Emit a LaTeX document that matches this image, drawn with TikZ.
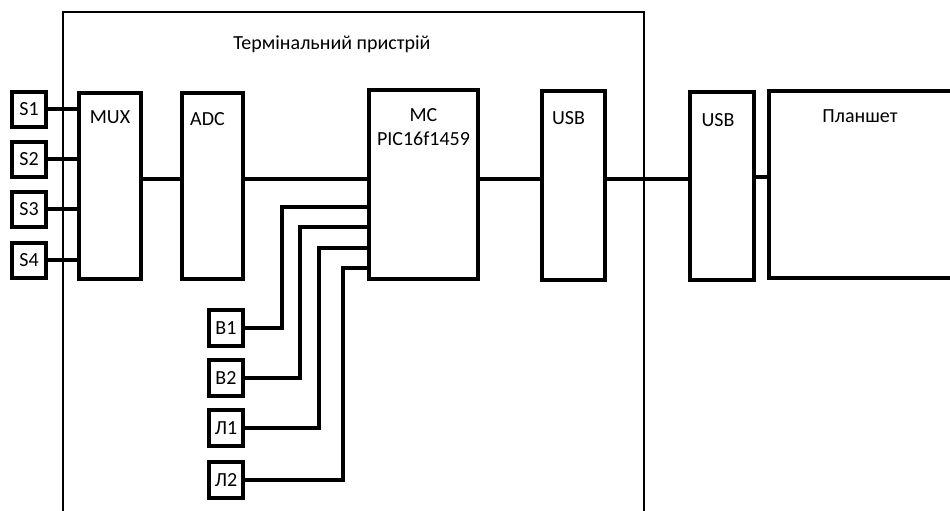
\documentclass[tikz,border=0pt]{standalone}
\usepackage{fontspec}
\setmainfont{Carlito}
\usetikzlibrary{positioning}

\begin{document}
\begin{tikzpicture}[x=1pt, y=-1pt,
    blk/.style={draw, line width=4pt, inner sep=0pt, font=\fontsize{20}{24}\selectfont},
    sen/.style={blk, minimum width=34pt, minimum height=35pt},
    ttl/.style={anchor=center, align=center, font=\fontsize{20}{24}\selectfont},
    wire/.style={line width=4pt},
    frm/.style={line width=2pt}
]
\useasboundingbox (0,0) rectangle (950,511);
\clip (0,0) rectangle (950,511);

\draw[frm] (63,520) -- (63,12) -- (644,12) -- (644,520);
\node[ttl] (term) at (332,44) {Термінальний пристрій};

\node[sen] (s1) at (29,109) {S1};
\node[sen] (s2) at (29,159) {S2};
\node[sen] (s3) at (29,209) {S3};
\node[sen] (s4) at (29,260) {S4};

\node[blk, minimum width=62pt, minimum height=186pt,
    label={[ttl, yshift=-26pt]north:MUX}] (mux) at (110,186) {};
\node[blk, minimum width=61pt, minimum height=186pt,
    label={[ttl, xshift=-5pt, yshift=-28pt]north:ADC}] (adc) at (212.5,186) {};
\node[blk, minimum width=109pt, minimum height=189pt,
    label={[ttl, yshift=-39pt]north:MC\\PIC16f1459}] (mc) at (423.5,184.5) {};
\node[blk, minimum width=63pt, minimum height=189pt,
    label={[ttl, xshift=-5pt, yshift=-29pt]north:USB}] (usb1) at (573.5,185.5) {};
\node[blk, minimum width=64pt, minimum height=188pt,
    label={[ttl, xshift=-4pt, yshift=-30pt]north:USB}] (usb2) at (722,186) {};
\node[blk, minimum width=194pt, minimum height=187pt,
    label={[ttl, xshift=-6pt, yshift=-27pt]north:Планшет}] (tab) at (866,184.5) {};

\node[sen, minimum height=36pt] (b1) at (226,328) {B1};
\node[sen, minimum height=36pt] (b2) at (226,378) {B2};
\node[sen, minimum height=36pt] (l1) at (226,428) {Л1};
\node[sen, minimum height=36pt] (l2) at (226,480) {Л2};

\coordinate (bus) at (0,179);

\foreach \n in {s1,s2,s3,s4}
    \draw[wire] (\n.east) -- (\n.east -| mux.west);

\draw[wire] (mux.east |- bus) -- (adc.west |- bus);
\draw[wire] (adc.east |- bus) -- (mc.west |- bus);
\draw[wire] (mc.east |- bus) -- (usb1.west |- bus);
\draw[wire] (usb1.east |- bus) -- (usb2.west |- bus);
\draw[wire] (usb2.east |- 0,177) -- (tab.west |- 0,177);

\foreach \n/\bx/\by in {b1/282/207, b2/300/227, l1/319/248, l2/343/268}
    \draw[wire] (\n.east) -| (\bx,\by) -- (mc.west |- 0,\by);
\end{tikzpicture}
\end{document}
